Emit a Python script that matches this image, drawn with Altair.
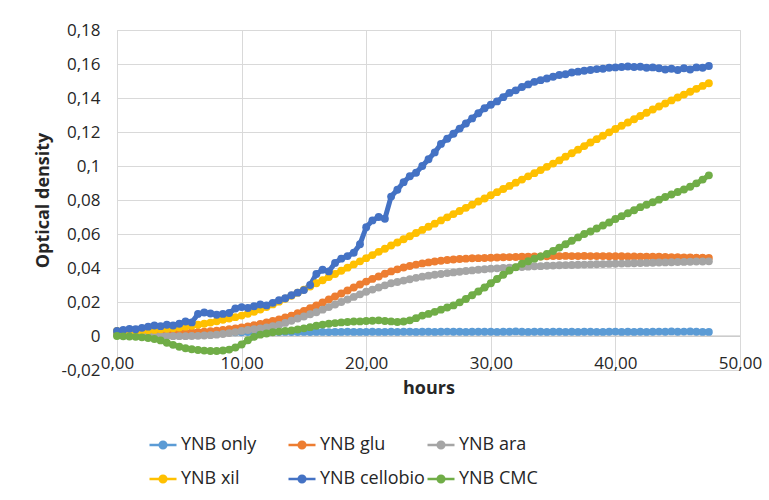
import altair as alt
import pandas as pd

# sampling grid: every half hour from 0 to 47.5 h
HOURS = [h / 2 for h in range(96)]

SERIES = ["YNB only", "YNB glu", "\u00a0YNB ara", "YNB xil", "YNB cellobio", "YNB CMC"]
COLORS = ["#5B9BD5", "#ED7D31", "#A5A5A5", "#FFC000", "#4472C4", "#70AD47"]

YNB_ONLY = [
    0.0015, 0.0015, 0.0016, 0.0016, 0.0017, 0.0017, 0.0018, 0.0018, 0.0019, 0.0019,
    0.0020, 0.0020, 0.0020, 0.0021, 0.0021, 0.0021, 0.0022, 0.0022, 0.0022, 0.0022,
    0.0022, 0.0023, 0.0023, 0.0023, 0.0022, 0.0023, 0.0023, 0.0024, 0.0023, 0.0023,
    0.0024, 0.0023, 0.0024, 0.0024, 0.0023, 0.0024, 0.0024, 0.0025, 0.0024, 0.0024,
    0.0024, 0.0025, 0.0024, 0.0024, 0.0025, 0.0024, 0.0025, 0.0025, 0.0024, 0.0025,
    0.0025, 0.0024, 0.0025, 0.0026, 0.0025, 0.0025, 0.0024, 0.0025, 0.0025, 0.0025,
    0.0025, 0.0024, 0.0025, 0.0025, 0.0027, 0.0025, 0.0024, 0.0025, 0.0025, 0.0024,
    0.0025, 0.0025, 0.0024, 0.0025, 0.0024, 0.0025, 0.0025, 0.0024, 0.0024, 0.0025,
    0.0026, 0.0024, 0.0025, 0.0024, 0.0025, 0.0024, 0.0025, 0.0026, 0.0025, 0.0027,
    0.0025, 0.0026, 0.0027, 0.0025, 0.0024, 0.0024,
]
YNB_GLU = [
    0.0010, 0.0010, 0.0010, 0.0010, 0.0011, 0.0011, 0.0012, 0.0013, 0.0015, 0.0016,
    0.0018, 0.0019, 0.0021, 0.0023, 0.0025, 0.0028, 0.0031, 0.0035, 0.0040, 0.0045,
    0.0050, 0.0056, 0.0063, 0.0071, 0.0080, 0.0089, 0.0098, 0.0109, 0.0120, 0.0134,
    0.0148, 0.0164, 0.0180, 0.0197, 0.0215, 0.0232, 0.0250, 0.0268, 0.0285, 0.0303,
    0.0320, 0.0336, 0.0350, 0.0366, 0.0380, 0.0392, 0.0403, 0.0412, 0.0420, 0.0427,
    0.0433, 0.0438, 0.0443, 0.0447, 0.0450, 0.0453, 0.0455, 0.0457, 0.0458, 0.0459,
    0.0460, 0.0462, 0.0463, 0.0464, 0.0465, 0.0466, 0.0467, 0.0468, 0.0468, 0.0469,
    0.0470, 0.0470, 0.0471, 0.0470, 0.0470, 0.0471, 0.0470, 0.0470, 0.0470, 0.0469,
    0.0469, 0.0469, 0.0468, 0.0468, 0.0467, 0.0467, 0.0466, 0.0466, 0.0465, 0.0464,
    0.0463, 0.0462, 0.0462, 0.0461, 0.0460, 0.0459,
]
YNB_ARA = [
    0.0010, 0.0010, 0.0009, 0.0008, 0.0007, 0.0005, 0.0003, 0.0001, 0.0000, -0.0001,
    -0.0001, -0.0001, 0.0000, 0.0001, 0.0003, 0.0005, 0.0008, 0.0012, 0.0017, 0.0023,
    0.0030, 0.0035, 0.0040, 0.0045, 0.0050, 0.0057, 0.0065, 0.0077, 0.0090, 0.0103,
    0.0115, 0.0128, 0.0140, 0.0155, 0.0170, 0.0185, 0.0200, 0.0215, 0.0230, 0.0245,
    0.0260, 0.0273, 0.0285, 0.0298, 0.0310, 0.0318, 0.0326, 0.0334, 0.0342, 0.0349,
    0.0355, 0.0360, 0.0365, 0.0370, 0.0374, 0.0378, 0.0382, 0.0386, 0.0390, 0.0393,
    0.0396, 0.0398, 0.0400, 0.0402, 0.0404, 0.0406, 0.0408, 0.0410, 0.0411, 0.0413,
    0.0414, 0.0416, 0.0417, 0.0418, 0.0419, 0.0420, 0.0421, 0.0422, 0.0423, 0.0424,
    0.0425, 0.0426, 0.0427, 0.0428, 0.0429, 0.0430, 0.0431, 0.0432, 0.0433, 0.0434,
    0.0435, 0.0436, 0.0437, 0.0438, 0.0438, 0.0439,
]
YNB_XIL = [
    0.0030, 0.0030, 0.0030, 0.0031, 0.0032, 0.0034, 0.0036, 0.0039, 0.0042, 0.0046,
    0.0050, 0.0055, 0.0060, 0.0066, 0.0072, 0.0079, 0.0087, 0.0095, 0.0103, 0.0111,
    0.0120, 0.0131, 0.0143, 0.0156, 0.0170, 0.0186, 0.0202, 0.0219, 0.0237, 0.0255,
    0.0273, 0.0291, 0.0310, 0.0328, 0.0347, 0.0365, 0.0384, 0.0402, 0.0421, 0.0439,
    0.0458, 0.0476, 0.0495, 0.0513, 0.0532, 0.0550, 0.0569, 0.0587, 0.0606, 0.0624,
    0.0643, 0.0661, 0.0680, 0.0698, 0.0717, 0.0735, 0.0754, 0.0772, 0.0791, 0.0809,
    0.0828, 0.0846, 0.0865, 0.0883, 0.0902, 0.0920, 0.0939, 0.0958, 0.0976, 0.0995,
    0.1014, 0.1033, 0.1055, 0.1075, 0.1096, 0.1117, 0.1138, 0.1158, 0.1178, 0.1198,
    0.1218, 0.1237, 0.1256, 0.1275, 0.1294, 0.1313, 0.1332, 0.1350, 0.1368, 0.1386,
    0.1403, 0.1420, 0.1437, 0.1454, 0.1471, 0.1487,
]
YNB_CELLOBIO = [
    0.0030, 0.0035, 0.0042, 0.0040, 0.0048, 0.0055, 0.0062, 0.0058, 0.0066, 0.0062,
    0.0072, 0.0085, 0.0080, 0.0130, 0.0138, 0.0132, 0.0125, 0.0130, 0.0135, 0.0162,
    0.0170, 0.0165, 0.0175, 0.0185, 0.0180, 0.0195, 0.0210, 0.0222, 0.0240, 0.0255,
    0.0270, 0.0300, 0.0365, 0.0390, 0.0380, 0.0430, 0.0455, 0.0470, 0.0490, 0.0540,
    0.0640, 0.0680, 0.0700, 0.0690, 0.0820, 0.0860, 0.0905, 0.0940, 0.0960, 0.1000,
    0.1040, 0.1080, 0.1130, 0.1160, 0.1190, 0.1220, 0.1250, 0.1280, 0.1310, 0.1340,
    0.1360, 0.1380, 0.1405, 0.1430, 0.1445, 0.1465, 0.1480, 0.1495, 0.1505, 0.1515,
    0.1525, 0.1535, 0.1540, 0.1550, 0.1555, 0.1560, 0.1565, 0.1570, 0.1572, 0.1578,
    0.1580, 0.1582, 0.1585, 0.1582, 0.1584, 0.1578, 0.1580, 0.1575, 0.1568, 0.1572,
    0.1565, 0.1575, 0.1568, 0.1580, 0.1578, 0.1588,
]
YNB_CMC = [
    0.0000, -0.0002, -0.0003, -0.0005, -0.0008, -0.0012, -0.0018, -0.0026, -0.0040, -0.0052,
    -0.0063, -0.0072, -0.0078, -0.0082, -0.0086, -0.0088, -0.0088, -0.0085, -0.0080, -0.0068,
    -0.0050, -0.0025, -0.0005, 0.0008, 0.0015, 0.0022, 0.0026, 0.0030, 0.0033, 0.0038,
    0.0045, 0.0052, 0.0060, 0.0067, 0.0072, 0.0076, 0.0080, 0.0082, 0.0085, 0.0086,
    0.0088, 0.0090, 0.0092, 0.0088, 0.0086, 0.0082, 0.0085, 0.0092, 0.0105, 0.0120,
    0.0130, 0.0142, 0.0155, 0.0168, 0.0180, 0.0198, 0.0218, 0.0240, 0.0262, 0.0285,
    0.0310, 0.0335, 0.0360, 0.0385, 0.0405, 0.0425, 0.0440, 0.0455, 0.0468, 0.0482,
    0.0500, 0.0520, 0.0540, 0.0560, 0.0580, 0.0600, 0.0615, 0.0632, 0.0650, 0.0668,
    0.0688, 0.0705, 0.0722, 0.0740, 0.0758, 0.0772, 0.0787, 0.0802, 0.0818, 0.0832,
    0.0847, 0.0862, 0.0878, 0.0898, 0.0920, 0.0945,
]

Y_TICKS = [-0.02, 0.0, 0.02, 0.04, 0.06, 0.08, 0.1, 0.12, 0.14, 0.16, 0.18]
X_TICKS = [0, 10, 20, 30, 40, 50]

ALL = [YNB_ONLY, YNB_GLU, YNB_ARA, YNB_XIL, YNB_CELLOBIO, YNB_CMC]
rows = []
for name, vals in zip(SERIES, ALL):
    for t, v in zip(HOURS, vals):
        rows.append({"hours": t, "od": v, "series": name})
df = pd.DataFrame(rows)

FONT = "Open Sans"
TXT = "#262626"

# legend glyph: a line with a dot (dot drawn as concentric rings so a
# stroke-only symbol looks filled)
legend_path = (
    "M-1,0L1,0"
    "M-0.245,0A0.245,0.245,0,1,1,0.245,0A0.245,0.245,0,1,1,-0.245,0"
    "M-0.125,0A0.125,0.125,0,1,1,0.125,0A0.125,0.125,0,1,1,-0.125,0"
    "M-0.03,0A0.03,0.03,0,1,1,0.03,0A0.03,0.03,0,1,1,-0.03,0"
)

scale = alt.Scale(domain=SERIES, range=COLORS)
color_legend = alt.Color(
    "series:N",
    scale=scale,
    legend=alt.Legend(
        title=None,
        orient="none",
        direction="horizontal",
        legendX=31,
        legendY=400,
        columns=3,
        gridAlign="all",
        columnPadding=-3,
        rowPadding=10,
        symbolType=legend_path,
        symbolSize=729,
        symbolStrokeWidth=2.5,
        labelFontSize=18,
        labelFont=FONT,
        labelColor=TXT,
        labelOffset=3,
        labelLimit=300,
        symbolOpacity=1,
    ),
)
color_plain = alt.Color("series:N", scale=scale, legend=None)

x = alt.X(
    "hours:Q",
    scale=alt.Scale(domain=[0, 50], nice=False, zero=False),
    axis=alt.Axis(
        values=X_TICKS,
        tickCount=20,
        labelExpr="replace(format(datum.value, '.2f'), '.', ',')",
        title="hours",
        grid=True,
        gridColor="#D9D9D9",
        domain=False,
        ticks=False,
        labelFlush=False,
        labelOverlap=False,
        labelPadding=-15,
        labelFontSize=17,
        labelFont=FONT,
        labelColor=TXT,
        titleFont=FONT,
        titleFontSize=18,
        titleFontWeight="bold",
        titleColor=TXT,
        titleY=9,
        titleBaseline="top",
    ),
)
y = alt.Y(
    "od:Q",
    scale=alt.Scale(domain=[-0.02, 0.18], nice=False, zero=False),
    axis=alt.Axis(
        values=Y_TICKS,
        tickCount=20,
        labelExpr="replace(toString(round(datum.value * 100) / 100), '.', ',')",
        title="Optical density",
        grid=True,
        gridColor="#D9D9D9",
        domain=False,
        ticks=False,
        labelFlush=False,
        labelOverlap=False,
        labelPadding=17,
        labelFontSize=17,
        labelFont=FONT,
        labelColor=TXT,
        titleFont=FONT,
        titleFontSize=18,
        titleFontWeight="bold",
        titleColor=TXT,
        titleX=-74,
        titleY=170,
        titleBaseline="middle",
    ),
)

base = alt.Chart(df)
lines = base.mark_line(strokeWidth=5).encode(x=x, y=y, color=color_legend)
points = base.mark_circle(size=62, opacity=1).encode(x=x, y=y, color=color_plain)
zero = alt.Chart(pd.DataFrame({"od": [0.0]})).mark_rule(
    color="#BFBFBF", strokeWidth=1.2
).encode(y=alt.Y("od:Q"))

chart = alt.layer(zero, lines, points).properties(
    width=623,
    height=340,
    autosize=alt.AutoSizeParams(type="none"),
    padding={"left": 117, "top": 30, "right": 29, "bottom": 130},
).configure_view(stroke=None).configure(font=FONT, background="white")

chart.save("out.html", embed_options={"renderer": "svg", "actions": False})
